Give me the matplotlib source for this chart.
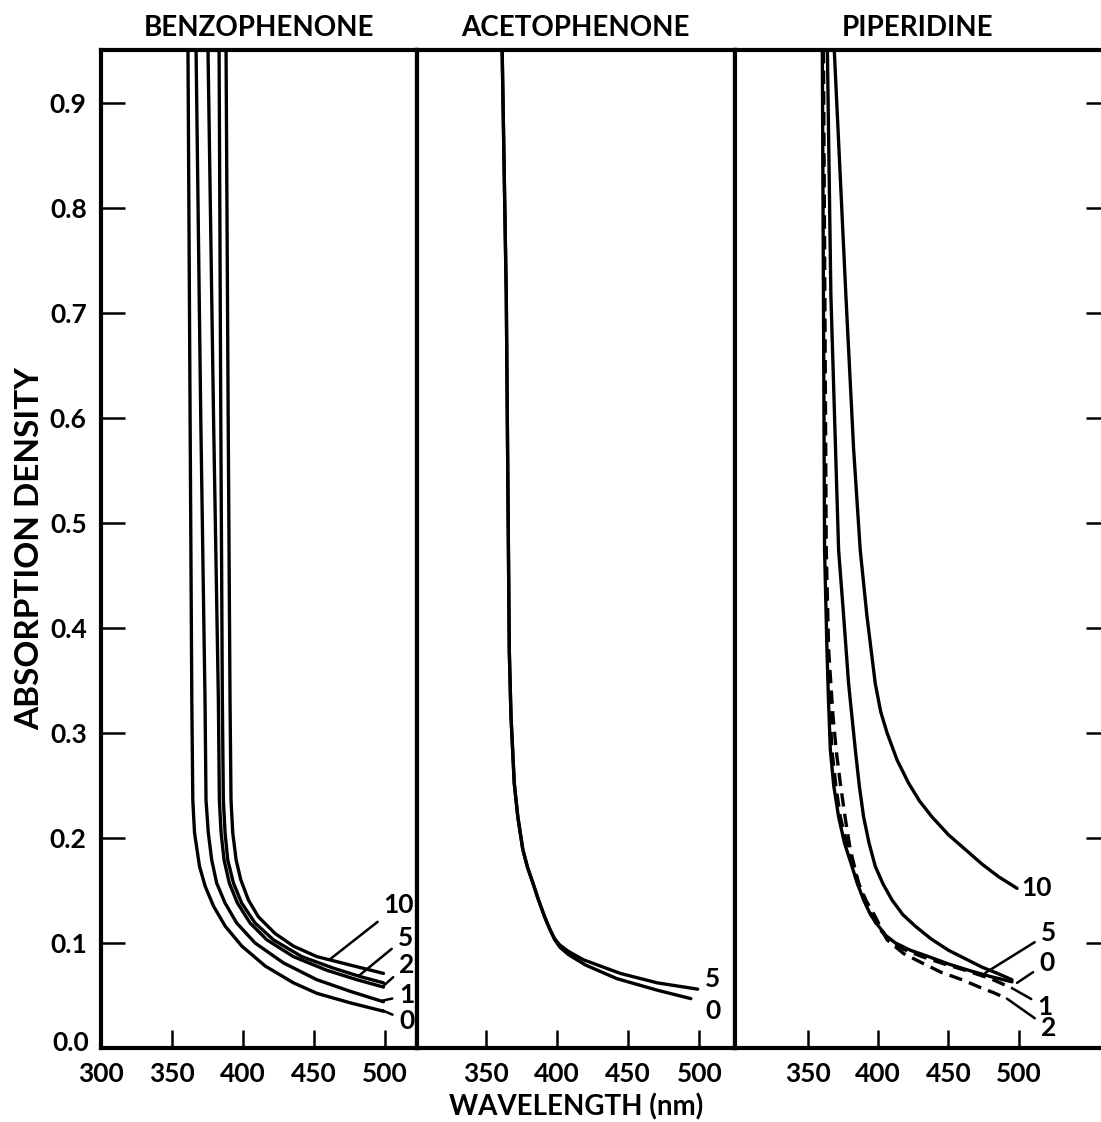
import matplotlib
matplotlib.use("Agg")
import matplotlib.pyplot as plt

plt.rcParams['font.family'] = ['Lato', 'DejaVu Sans']
plt.rcParams['font.weight'] = 'bold'

# --- data (wavelength nm, absorption density) ---
panel_titles = ['BENZOPHENONE', 'ACETOPHENONE', 'PIPERIDINE']
y_ticks = [0.1, 0.2, 0.3, 0.4, 0.5, 0.6, 0.7, 0.8, 0.9]
y_tick_labels = ['0.1', '0.2', '0.3', '0.4', '0.5', '0.6', '0.7', '0.8', '0.9']
x_ticks = [350, 400, 450, 500]
x_tick_labels = ['350', '400', '450', '500']

# benzophenone, doses 0, 1, 2, 5, 10
benzo_0_nm = [361.5, 363.0, 364.2, 364.9, 366.1, 369.6, 373.6, 379.5, 387.7, 399.4, 415.9, 435.8, 452.3, 475.7, 499.2]
benzo_0_ab = [0.950, 0.600, 0.331, 0.236, 0.205, 0.173, 0.154, 0.135, 0.116, 0.097, 0.078, 0.062, 0.052, 0.043, 0.035]
benzo_1_nm = [367.2, 370.5, 373.5, 374.2, 375.8, 378.2, 381.7, 387.6, 395.8, 408.7, 428.7, 452.2, 475.6, 499.1]
benzo_1_ab = [0.950, 0.600, 0.331, 0.236, 0.205, 0.179, 0.157, 0.138, 0.119, 0.100, 0.081, 0.065, 0.054, 0.044]
benzo_2_nm = [375.6, 379.5, 382.9, 383.6, 384.8, 386.9, 390.6, 396.3, 405.2, 417.0, 435.7, 459.2, 480.4, 499.1]
benzo_2_ab = [0.950, 0.600, 0.331, 0.236, 0.205, 0.179, 0.157, 0.138, 0.119, 0.103, 0.087, 0.074, 0.065, 0.058]
benzo_5_nm = [383.4, 384.6, 385.7, 386.4, 387.6, 389.5, 393.5, 399.3, 408.7, 421.6, 441.6, 463.9, 482.7, 499.1]
benzo_5_ab = [0.950, 0.600, 0.331, 0.236, 0.205, 0.179, 0.157, 0.138, 0.119, 0.103, 0.087, 0.076, 0.068, 0.062]
benzo_10_nm = [388.3, 389.8, 391.1, 391.8, 393.0, 395.4, 398.7, 404.0, 411.0, 422.8, 435.7, 452.2, 475.6, 499.1]
benzo_10_ab = [0.950, 0.600, 0.331, 0.236, 0.205, 0.179, 0.160, 0.141, 0.125, 0.109, 0.097, 0.087, 0.079, 0.071]

# acetophenone, doses 0, 5
aceto_0_nm = [361.5, 364.4, 366.5, 367.7, 370.0, 372.5, 376.0, 379.3, 383.1, 387.0, 391.3, 395.0, 398.4, 402.0, 408.0, 420.0, 442.1, 470.5, 494.0]
aceto_0_ab = [0.950, 0.716, 0.379, 0.316, 0.252, 0.220, 0.189, 0.172, 0.157, 0.141, 0.125, 0.113, 0.103, 0.096, 0.089, 0.079, 0.066, 0.055, 0.047]
aceto_5_nm = [361.5, 364.4, 366.5, 367.7, 370.0, 372.5, 376.0, 379.3, 383.1, 387.0, 391.3, 395.0, 398.4, 402.0, 408.0, 418.5, 444.5, 470.5, 498.8]
aceto_5_ab = [0.950, 0.716, 0.379, 0.316, 0.252, 0.220, 0.189, 0.172, 0.157, 0.141, 0.125, 0.113, 0.104, 0.098, 0.092, 0.084, 0.071, 0.062, 0.056]

# piperidine, doses 0, 1, 2 (dashed), 5, 10
piper_0_nm = [360.2, 361.0, 361.8, 363.5, 364.6, 365.9, 368.3, 371.8, 376.0, 381.3, 385.0, 389.6, 394.5, 400.3, 405.5, 412.2, 423.0, 435.9, 450.0, 464.4, 480.0, 495.3]
piper_0_ab = [0.950, 0.716, 0.474, 0.379, 0.330, 0.284, 0.250, 0.220, 0.195, 0.173, 0.157, 0.141, 0.127, 0.116, 0.107, 0.100, 0.093, 0.087, 0.080, 0.074, 0.068, 0.063]
piper_1_nm = [360.5, 361.5, 362.3, 364.0, 365.4, 367.0, 369.8, 373.0, 377.5, 382.0, 386.0, 390.0, 395.0, 400.0, 407.4, 418.0, 431.2, 447.0, 464.4, 480.0, 495.3]
piper_1_ab = [0.950, 0.716, 0.474, 0.379, 0.330, 0.284, 0.250, 0.220, 0.195, 0.173, 0.157, 0.141, 0.127, 0.115, 0.103, 0.094, 0.087, 0.080, 0.073, 0.066, 0.057]
piper_2_nm = [361.0, 362.0, 363.0, 364.7, 367.8, 370.2, 373.0, 376.5, 380.1, 386.0, 391.5, 397.9, 406.3, 418.0, 431.2, 445.0, 459.7, 472.0, 483.4, 491.7]
piper_2_ab = [0.950, 0.716, 0.474, 0.379, 0.316, 0.282, 0.252, 0.219, 0.189, 0.157, 0.140, 0.125, 0.103, 0.090, 0.081, 0.072, 0.065, 0.058, 0.052, 0.047]
piper_5_nm = [363.8, 366.3, 371.8, 375.4, 378.9, 383.7, 386.5, 389.6, 393.5, 397.9, 403.5, 409.8, 417.5, 426.4, 437.5, 450.1, 462.0, 473.9, 485.0, 495.3]
piper_5_ab = [0.950, 0.716, 0.474, 0.411, 0.347, 0.284, 0.250, 0.220, 0.195, 0.173, 0.156, 0.141, 0.127, 0.116, 0.104, 0.093, 0.085, 0.077, 0.071, 0.065]
piper_10_nm = [368.7, 377.0, 382.5, 387.2, 392.0, 397.9, 401.8, 406.3, 413.5, 421.7, 429.5, 438.3, 450.0, 462.0, 474.0, 485.8, 498.9]
piper_10_ab = [0.950, 0.716, 0.570, 0.474, 0.411, 0.347, 0.320, 0.300, 0.274, 0.252, 0.235, 0.220, 0.203, 0.189, 0.175, 0.163, 0.152]

# --- drawing ---
W, H = 1101, 1122
fig = plt.figure(figsize=(W / 100, H / 100), dpi=100)
bottom = 1 - 1048 / H
height = 998 / H
ax1 = fig.add_axes([100.6 / W, bottom, 316.1 / W, height])
ax2 = fig.add_axes([416.7 / W, bottom, 318.3 / W, height])
ax3 = fig.add_axes([735.0 / W, bottom, 366.0 / W, height])
axes = [ax1, ax2, ax3]

LW = 2.4
solid = dict(color='black', lw=LW, solid_capstyle='round', solid_joinstyle='round')
dashed = dict(color='black', lw=LW, linestyle=(0, (4, 2.2)))
FS = 19

for ax, title in zip(axes, panel_titles):
    ax.set_ylim(0, 0.95)
    for s in ax.spines.values():
        s.set_linewidth(3.0)
    ax.set_title(title, fontsize=20, fontweight='bold', pad=10)
    ax.set_xticks(x_ticks)
    ax.set_xticklabels(x_tick_labels, fontsize=FS, fontweight='bold')
    ax.tick_params(axis='x', direction='in', length=13, width=1.8, pad=10)
    ax.tick_params(axis='y', left=False, labelleft=False)

ax1.set_xlim(300, 522.5)
ax2.set_xlim(301.5, 525)
ax3.set_xlim(298, 558.7)

# left axis of panel 1
ax1.set_xticks([300] + x_ticks)
ax1.set_xticklabels(['300'] + x_tick_labels, fontsize=FS, fontweight='bold')
ax1.set_yticks(y_ticks)
ax1.set_yticklabels(y_tick_labels, fontsize=FS, fontweight='bold')
ax1.tick_params(axis='y', left=True, labelleft=True, direction='in', length=17, width=1.8, pad=10)
ax1.text(-0.037, 0.005, '0.0', transform=ax1.transAxes, ha='right', va='center',
         fontsize=FS, fontweight='bold')
ax1.set_ylabel('ABSORPTION DENSITY', fontsize=24, fontweight='bold', labelpad=4)

# right edge ticks of panel 3 (spine is cut by the page)
ax3.spines['right'].set_visible(False)
ax3.set_yticks(y_ticks)
ax3.tick_params(axis='y', left=False, right=True, labelleft=False, direction='in',
                length=11, width=1.8)

ax2.set_xlabel('WAVELENGTH (nm)', fontsize=20, fontweight='bold', labelpad=5)

# benzophenone
for nm, ab in [(benzo_0_nm, benzo_0_ab), (benzo_1_nm, benzo_1_ab), (benzo_2_nm, benzo_2_ab),
               (benzo_5_nm, benzo_5_ab), (benzo_10_nm, benzo_10_ab)]:
    ax1.plot(nm, ab, **solid)

lead = dict(arrowstyle='-', color='black', lw=1.8, shrinkA=3, shrinkB=0)
for txt, xy, xyt in [('10', (461, 0.084), (510, 0.136)),
                     ('5', (482, 0.069), (514.5, 0.105)),
                     ('2', (499, 0.059), (515.5, 0.079)),
                     ('1', (498, 0.045), (515.5, 0.050)),
                     ('0', (498, 0.036), (515.5, 0.026))]:
    ax1.annotate(txt, xy=xy, xytext=xyt, fontsize=FS, fontweight='bold',
                 ha='center', va='center', arrowprops=lead)

# acetophenone
ax2.plot(aceto_0_nm, aceto_0_ab, **solid)
ax2.plot(aceto_5_nm, aceto_5_ab, **solid)
ax2.text(509.5, 0.066, '5', fontsize=FS, fontweight='bold', ha='center', va='center')
ax2.text(509.5, 0.035, '0', fontsize=FS, fontweight='bold', ha='center', va='center')

# piperidine
ax3.plot(piper_0_nm, piper_0_ab, **solid)
ax3.plot(piper_1_nm, piper_1_ab, **dashed)
ax3.plot(piper_2_nm, piper_2_ab, **dashed)
ax3.plot(piper_5_nm, piper_5_ab, **solid)
ax3.plot(piper_10_nm, piper_10_ab, **solid)
ax3.text(502, 0.152, '10', fontsize=FS, fontweight='bold', ha='left', va='center')
for txt, xy, xyt in [('5', (476.3, 0.0715), (521.4, 0.109)),
                     ('0', (498.9, 0.062), (520.2, 0.081)),
                     ('1', (495.3, 0.057), (519.0, 0.039)),
                     ('2', (491.7, 0.047), (521.4, 0.019))]:
    ax3.annotate(txt, xy=xy, xytext=xyt, fontsize=FS, fontweight='bold',
                 ha='center', va='center', arrowprops=lead)

fig.savefig('out.png', dpi=100, facecolor='white')
